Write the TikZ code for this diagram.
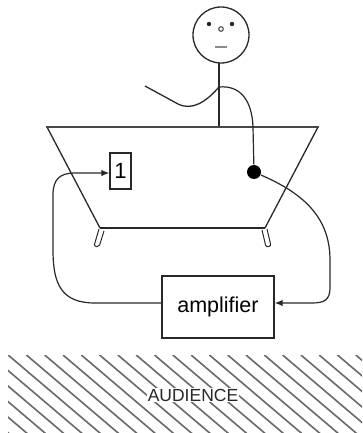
\documentclass[tikz,border=0pt]{standalone}
\usepackage{fontspec}
\setmainfont{Liberation Sans}
\definecolor{InkGrey}{RGB}{40,40,40}
\definecolor{HatchGrey}{RGB}{105,105,105}
\usetikzlibrary{arrows.meta}

\begin{document}
\begin{tikzpicture}[x=1pt,y=-1pt,line width=1.3pt,draw=InkGrey,
  cable/.style={InkGrey,line width=1.2pt},
  box/.style={draw=InkGrey,line width=1.3pt,fill=white,inner sep=0pt}]
\useasboundingbox (0,0) rectangle (362,433);

% the listener in the audience strip
\begin{scope}
\clip (8,355) rectangle (362,433);
\foreach \x in {-120,-101.7,...,362}
  \draw[HatchGrey,line width=1.6pt] (\x,355) -- ++(100,85);
\end{scope}
\node[fill=white,inner sep=1pt,text=InkGrey,font=\fontsize{17.5}{20}\selectfont] (aud) at (193,395) {AUDIENCE};

% stick man
\draw (221,35) circle (28);
\fill[InkGrey] (209,24) circle (2.2) (232,24) circle (2.2);
\draw[line width=0.9pt] (221,29) circle (2.3);
\draw[InkGrey!55,line width=2.6pt] (215,47) -- (227,47);
\coordinate (shoulder) at (219,87);
\draw (219,63) -- (219,127);
\draw (145,86) -- (178,104) .. controls (192,111) and (206,102) .. (shoulder);

% bathtub with legs
\draw (100,228) -- (265,228);
\draw (47,127) -- (100,228) (318,127) -- (265,228);
\draw[rounded corners=2pt,line width=1pt] (99,229) -- (94,246) -- (99,247) -- (104,231);
\draw[rounded corners=2pt,line width=1pt] (262,230) -- (266,247) -- (271,246) -- (267,229);
\draw[InkGrey!85,line width=2.4pt] (46,127) -- (319,127);

% microphone, speaker and amplifier
\node[circle,fill=black,minimum size=14pt,inner sep=0pt] (mic) at (254,172) {};
\node[box,minimum width=21pt,minimum height=36pt,font=\fontsize{22}{24}\selectfont] (one) at (120.5,171) {1};
\node[box,minimum width=112pt,minimum height=62pt,font=\fontsize{21.5}{24}\selectfont] (amp) at (218,307) {amplifier};

\draw[cable] (shoulder) .. controls (240,85) and (252,100) .. (253,127) -- (mic);
\draw[cable,-{Latex[length=8pt,width=6.5pt]}] (mic) .. controls (300,192) and (330,215) .. (330,260)
  -- (330,288) .. controls (330,300) and (324,303) .. (312,303) -- ([yshift=4pt]amp.east);
\draw[cable,-{Latex[length=8pt,width=6.5pt]}] ([yshift=4pt]amp.west) -- (95,303)
  .. controls (62,303) and (53,285) .. (53,250) -- (53,195)
  .. controls (53,179) and (60,173) .. (75,173) -- ([yshift=-2pt]one.west);
\end{tikzpicture}
\end{document}
